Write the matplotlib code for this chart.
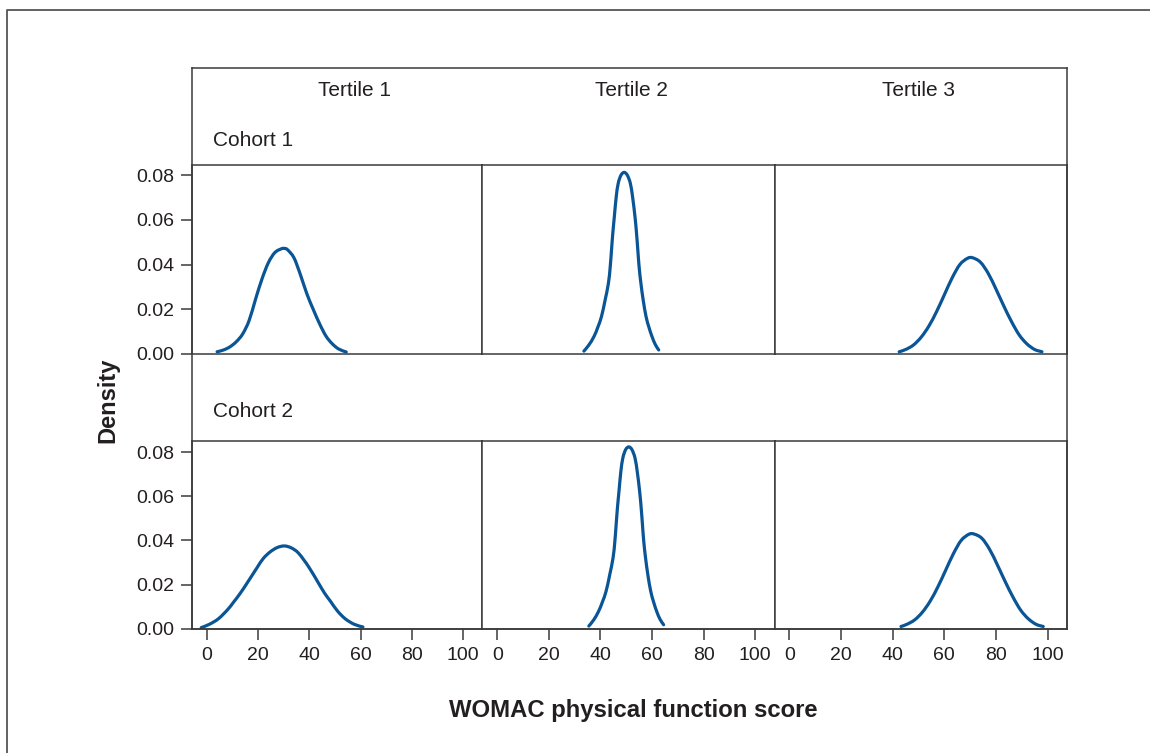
import numpy as np
import matplotlib
matplotlib.use("Agg")
import matplotlib.pyplot as plt
from matplotlib.path import Path
from matplotlib.patches import PathPatch

plt.rcParams['font.family'] = ['Liberation Sans', 'DejaVu Sans']

W, H = 1150, 753
ink = '#231f20'
frame = '#3a3a3a'
blue = '#0a5596'

tertiles = ["Tertile 1", "Tertile 2", "Tertile 3"]
cohorts = ["Cohort 1", "Cohort 2"]
xticks = [0, 20, 40, 60, 80, 100]
yticks = [0.00, 0.02, 0.04, 0.06, 0.08]

# density curves (score, density)
c1_t1_x = [4, 6.5, 9, 11.5, 14, 16.5, 19, 21.5, 24, 26.5, 29, 30.3, 31.5, 34, 36.5, 39, 41.5, 44, 46.5, 49, 51.5, 54.4]
c1_t1_y = [0.0010, 0.0018, 0.0032, 0.0055, 0.0090, 0.0150, 0.0245, 0.0335, 0.0408, 0.0453, 0.0470, 0.0472,
           0.0466, 0.0430, 0.0355, 0.0270, 0.0200, 0.0135, 0.0080, 0.0045, 0.0022, 0.0009]

c1_t2_x = [33.6, 35.5, 37.5, 39.0, 40.4, 41.8, 43.1, 43.8, 44.3, 44.8, 45.4, 46.1, 46.9, 48.0, 49.2,
           50.4, 51.6, 52.5, 53.4, 54.0, 54.5, 55.0, 55.7, 56.6, 57.7, 58.8, 60.0, 61.3, 62.6]
c1_t2_y = [0.0013, 0.0040, 0.0078, 0.0120, 0.0167, 0.0240, 0.0316, 0.0390, 0.0465, 0.0540, 0.0614, 0.0700,
           0.0763, 0.0800, 0.0812, 0.0800, 0.0763, 0.0700, 0.0614, 0.0540, 0.0465, 0.0390, 0.0316, 0.0240,
           0.0167, 0.0120, 0.0078, 0.0042, 0.0018]

c1_t3_x = [42.5, 45, 48, 51, 54, 57, 60, 63, 66, 69, 71, 74, 77, 80, 83, 86, 89, 92, 95, 97.8]
c1_t3_y = [0.0010, 0.0020, 0.0040, 0.0075, 0.0125, 0.0190, 0.0265, 0.0340, 0.0400, 0.0428, 0.0430, 0.0410,
           0.0360, 0.0290, 0.0215, 0.0145, 0.0085, 0.0045, 0.0020, 0.0010]

c2_t1_x = [-2.2, 1, 4.5, 8, 10.4, 13, 15.6, 19.5, 22, 24.7, 27.5, 30.3, 33, 35.8, 39.7, 43.6, 46, 48.2,
           51, 54, 57.5, 60.9]
c2_t1_y = [0.0005, 0.0020, 0.0045, 0.0085, 0.0120, 0.0160, 0.0205, 0.0275, 0.0318, 0.0348, 0.0368, 0.0375,
           0.0366, 0.0342, 0.0281, 0.0206, 0.0160, 0.0125, 0.0080, 0.0045, 0.0020, 0.0008]

c2_t2_x = [35.5, 37.4, 39.3, 40.8, 42.2, 43.6, 44.9, 45.6, 46.1, 46.6, 47.2, 47.9, 48.7, 49.8, 51.0,
           52.2, 53.4, 54.3, 55.2, 55.8, 56.3, 56.8, 57.5, 58.4, 59.5, 60.6, 61.8, 63.1, 64.5]
c2_t2_y = [0.0012, 0.0040, 0.0079, 0.0122, 0.0170, 0.0244, 0.0321, 0.0396, 0.0472, 0.0548, 0.0623, 0.0710,
           0.0774, 0.0812, 0.0824, 0.0812, 0.0774, 0.0710, 0.0623, 0.0548, 0.0472, 0.0396, 0.0321, 0.0244,
           0.0170, 0.0122, 0.0079, 0.0043, 0.0018]

c2_t3_x = [43.2, 45.5, 48.5, 51.5, 54.5, 57.5, 60.5, 63.5, 66.5, 69.5, 71.5, 74.5, 77.5, 80.5, 83.5, 86.5,
           89.5, 92.5, 95.5, 98.3]
c2_t3_y = [0.0010, 0.0020, 0.0040, 0.0075, 0.0125, 0.0190, 0.0265, 0.0340, 0.0400, 0.0428, 0.0429, 0.0410,
           0.0360, 0.0290, 0.0215, 0.0145, 0.0085, 0.0045, 0.0020, 0.0010]

curves = [[(c1_t1_x, c1_t1_y), (c1_t2_x, c1_t2_y), (c1_t3_x, c1_t3_y)],
          [(c2_t1_x, c2_t1_y), (c2_t2_x, c2_t2_y), (c2_t3_x, c2_t3_y)]]

fig = plt.figure(figsize=(W / 100, H / 100), dpi=100)


def px_axes(x0, y0, x1, y1, **kw):
    return fig.add_axes([x0 / W, 1 - y1 / H, (x1 - x0) / W, (y1 - y0) / H], **kw)


def fig_text(x, y, s, **kw):
    fig.text(x / W, 1 - y / H, s, color=ink, **kw)


def smooth_path(xs, ys):
    # Catmull-Rom style bezier through the read points, so the line is not angular
    pts = np.column_stack([xs, ys])
    verts = [pts[0]]
    codes = [Path.MOVETO]
    n = len(pts)
    for i in range(n - 1):
        p0 = pts[i - 1] if i > 0 else pts[i]
        p1, p2 = pts[i], pts[i + 1]
        p3 = pts[i + 2] if i + 2 < n else pts[i + 1]
        verts += [p1 + (p2 - p0) / 6, p2 - (p3 - p1) / 6, p2]
        codes += [Path.CURVE4] * 3
    return Path(verts, codes)


# outer border (left and top only visible)
border = px_axes(0, 0, W, H, zorder=-5)
border.set_xlim(0, W)
border.set_ylim(H, 0)
border.axis('off')
border.plot([7, 7, W + 5], [H + 5, 9.5, 9.5], color='#555555', lw=1.3, solid_capstyle='butt')

col_edges = [192, 482.3, 774.5, 1067]
row_edges = [(165, 354), (440.5, 628.7)]
row_ylim = [0.0845, 0.0853]

for r in range(2):
    for c in range(3):
        y0, y1 = row_edges[r]
        ax = px_axes(col_edges[c], y0, col_edges[c + 1], y1)
        xs, ys = curves[r][c]
        ax.add_patch(PathPatch(smooth_path(xs, ys), fill=False, edgecolor=blue, lw=2.3,
                               capstyle='round', joinstyle='round'))
        ax.set_xlim(-5.8, 107.5)
        ax.set_ylim(0, row_ylim[r])
        for s in ax.spines.values():
            s.set_color(frame)
            s.set_linewidth(1.1)
        ax.tick_params(direction='out', colors=frame, labelcolor=ink, labelsize=14,
                       width=1.1, length=8, pad=5)
        ax.set_xticks(xticks)
        ax.set_yticks(yticks)
        ax.yaxis.set_major_formatter(matplotlib.ticker.FormatStrFormatter('%.2f'))
        if r == 0:
            ax.tick_params(axis='x', bottom=False, labelbottom=False)
        if c > 0:
            ax.tick_params(axis='y', left=False, labelleft=False)

# strip frame around the whole grid
grid = px_axes(192, 68, 1067, 628.7, facecolor='none', zorder=3)
grid.set_xticks([])
grid.set_yticks([])
for s in grid.spines.values():
    s.set_color(frame)
    s.set_linewidth(1.1)

for name, xc in zip(tertiles, [354, 631, 918]):
    fig_text(xc, 90, name, ha='center', va='center', fontsize=15)
for name, yc in zip(cohorts, [141, 412]):
    fig_text(213, yc, name, ha='left', va='center', fontsize=15)

fig_text(108, 400, "Density", ha='center', va='center', rotation=90, fontsize=17, fontweight='bold')
fig_text(633, 710, "WOMAC physical function score", ha='center', va='center', fontsize=17.2,
         fontweight='bold')

fig.savefig("out.png", dpi=100)
